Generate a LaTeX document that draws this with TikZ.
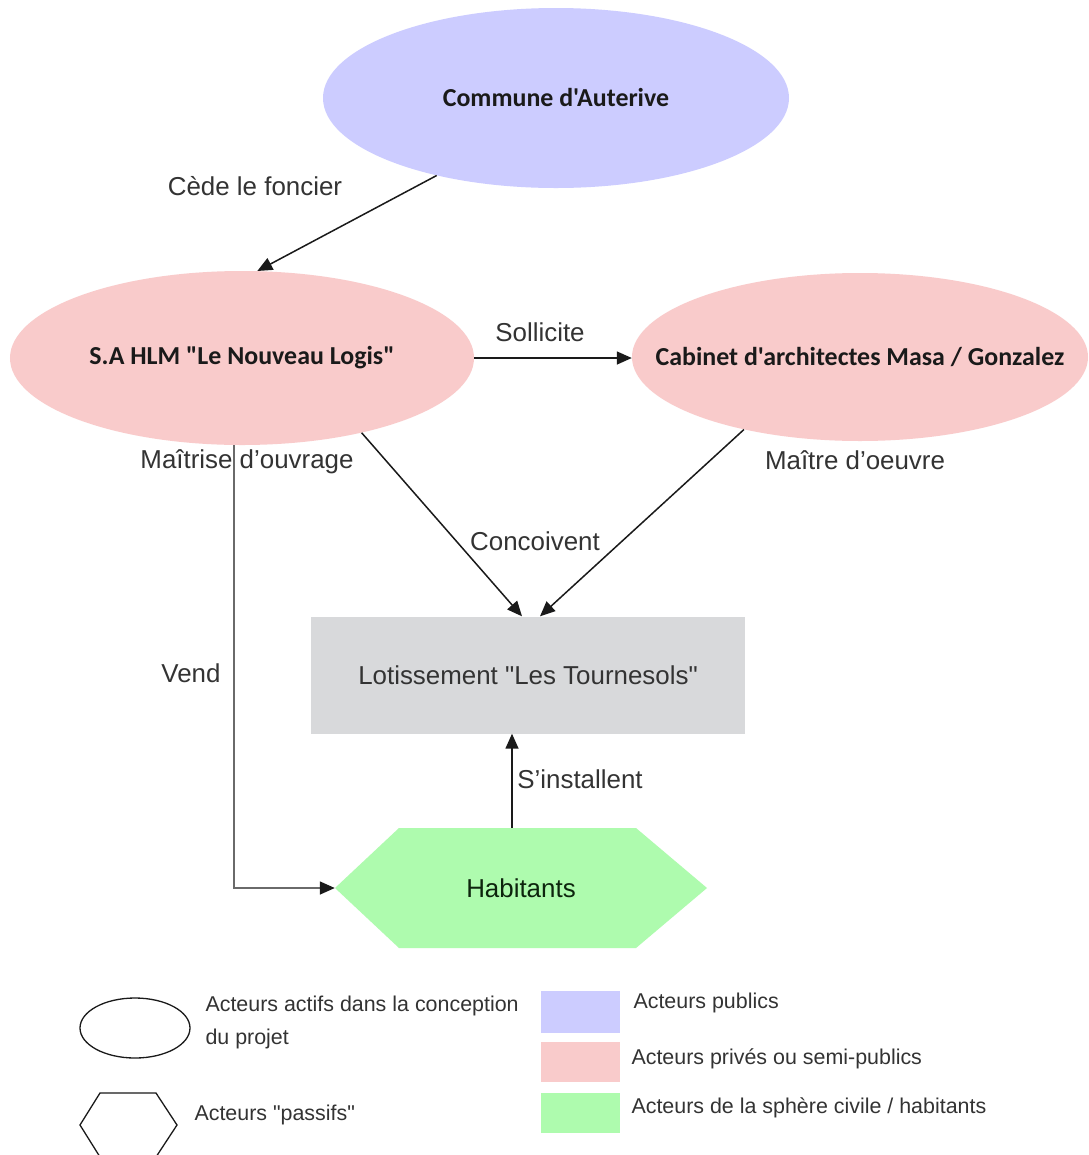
\documentclass[tikz,border=0pt]{standalone}
\usepackage{fontspec}
\setmainfont{Liberation Sans}
\newfontfamily\actorfont{Carlito}
\newfontfamily\quotefont{Liberation Sans}
\usetikzlibrary{arrows.meta,calc,shapes.geometric}
\definecolor{Ink}      {HTML}{1A1A1A}
\definecolor{LabelGrey}{HTML}{333333}
\definecolor{LineGrey} {HTML}{6A6A6A}
\definecolor{PubBlue}  {HTML}{CCCCFF}
\definecolor{PrivPink} {HTML}{F9CBCB}
\definecolor{LotGrey}  {HTML}{D8D9DB}
\definecolor{HabGreen} {HTML}{AEFBAE}
\newcommand{\dq}{{\quotefont"}}

\begin{document}
\begin{tikzpicture}[x=1bp, y=-1bp,
  actor/.style={ellipse, inner sep=0pt, inner xsep=-50bp, text=Ink,
                font=\actorfont\bfseries\fontsize{26}{30}\selectfont},
  link/.style={line width=1.5bp, Ink, -{Triangle[length=15bp,width=13bp]}},
  lbl/.style={text=LabelGrey, font=\fontsize{26}{30}\selectfont},
  legtxt/.style={anchor=west, text=LabelGrey, font=\fontsize{21.5}{25}\selectfont}]

  \fill[white] (0,0) rectangle (1089,1155);
  \useasboundingbox (0,0) rectangle (1089,1155);

  % ===== ACTORS =====
  \node[actor, fill=PubBlue, minimum width=466bp, minimum height=180bp]
        (commune) at (556,98) {Commune d'Auterive};
  \node[actor, fill=PrivPink, minimum width=464bp, minimum height=174bp]
        (sa) at (242,358) {S.A HLM "Le Nouveau Logis"};
  \node[actor, fill=PrivPink, minimum width=456bp, minimum height=168bp]
        (cab) at (860,357) {Cabinet d'architectes Masa / Gonzalez};

  % ===== LOTISSEMENT =====
  \node[fill=LotGrey, minimum width=434bp, minimum height=117bp, text=LabelGrey,
        font=\fontsize{26}{30}\selectfont]
        (lot) at (528,675) {Lotissement \dq Les Tournesols\dq};

  % ===== HABITANTS (hexagon) =====
  \fill[HabGreen] (335,888) -- (399,828) -- (636,828) -- (707,888)
        -- (636,948) -- (399,948) -- cycle;
  \node[minimum width=372bp, minimum height=120bp, text=Ink!85!green!60!black,
        font=\fontsize{26}{30}\selectfont]
        (hab) at (521,888) {Habitants};

  % ===== LINKS =====
  \draw[link] (commune.213) -- (sa.80);
  \node[lbl] (cede) at (255,186) {Cède le foncier};

  \draw[link] (sa.east) -- (sa.east -| cab.west);
  \node[lbl] (sollicite) at (540,332) {Sollicite};

  \draw[link] (sa.-32) -- ($(lot.north)+(-6,0)$);
  \draw[link] (cab.212) -- ($(lot.north)+(12,0)$);
  \node[lbl] (concoivent) at (535,541) {Concoivent};
  \node[lbl] (mo) at (247,462) {Maîtrise d'ouvrage};
  \node[lbl] (moe) at (855,460) {Maître d'oeuvre};

  \draw[link, LineGrey, -{Triangle[length=15bp,width=13bp,color=Ink]}]
        ($(sa.south)+(-8,0)$) |- (hab.west);
  \node[lbl] (vend) at (191,673) {Vend};

  \draw[link] (hab.north -| 512,0) -- (lot.south -| 512,0);
  \node[lbl] (installent) at (580,779) {S'installent};

  % ===== LEGEND =====
  \node[ellipse, draw=Ink, line width=1.3bp, minimum width=110bp, minimum height=60bp]
        (legactif) at (135,1028) {};
  \node[legtxt] (legactiftxt) at (202,1006) {Acteurs actifs dans la conception};
  \node[legtxt] (legprojet) at (202,1039) {du projet};

  \draw[Ink, line width=1.3bp] (100,1093) -- (156,1093) -- (177,1125)
        -- (156,1157) -- (100,1157) -- (80,1125) -- cycle;
  \node[legtxt] (legpassif) at (191,1115) {Acteurs \dq passifs\dq};

  \fill[PubBlue]  (541,991)  rectangle (620,1033);
  \fill[PrivPink] (541,1042) rectangle (620,1082);
  \fill[HabGreen] (541,1093) rectangle (620,1133);
  \node[legtxt] (legpub) at (630,1003) {Acteurs publics};
  \node[legtxt] (legpriv) at (628,1059) {Acteurs privés ou semi-publics};
  \node[legtxt] (legciv) at (628,1108) {Acteurs de la sphère civile / habitants};

\end{tikzpicture}
\end{document}
